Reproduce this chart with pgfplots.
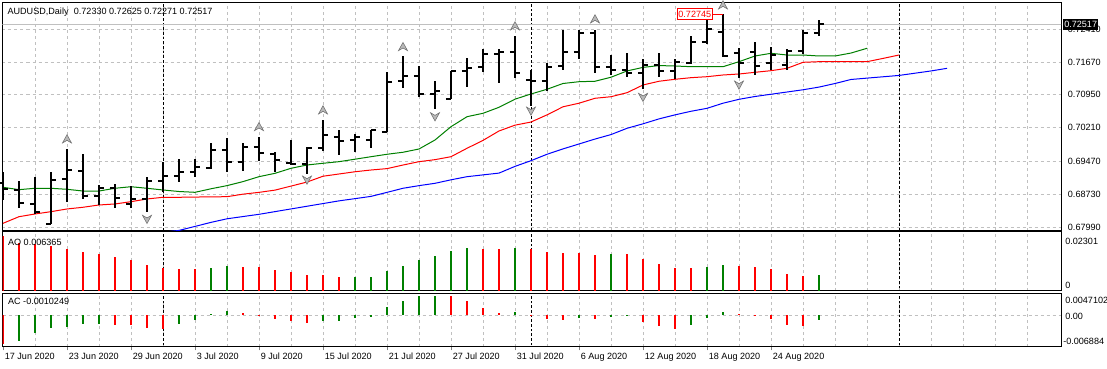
\documentclass[border=0pt]{standalone}
\usepackage{fontspec}
\setmainfont{Liberation Sans}
\usepackage{pgfplots}
\usepackage{pgfplotstable}
\pgfplotsset{compat=1.18}
\newcommand\mtf{\fontsize{6.8pt}{8pt}\selectfont}
\definecolor{mtgreen}{RGB}{0,128,0}
\definecolor{mtred}{RGB}{255,0,0}
\definecolor{mtblue}{RGB}{0,0,255}
\definecolor{mtgrid}{RGB}{192,192,192}

\pgfdeclareplotmark{otick}{\pgfpathmoveto{\pgfqpoint{-3.9pt}{0pt}}\pgfpathlineto{\pgfqpoint{0pt}{0pt}}\pgfusepathqstroke}
\pgfdeclareplotmark{ctick}{\pgfpathmoveto{\pgfqpoint{0pt}{0pt}}\pgfpathlineto{\pgfqpoint{3.9pt}{0pt}}\pgfusepathqstroke}
\pgfdeclareplotmark{fup}{%
  \pgfpathmoveto{\pgfqpoint{0pt}{3.2pt}}%
  \pgfpathlineto{\pgfqpoint{-3.4pt}{-3pt}}%
  \pgfpathlineto{\pgfqpoint{0pt}{-1pt}}%
  \pgfpathlineto{\pgfqpoint{3.4pt}{-3pt}}%
  \pgfpathclose
  \pgfusepathqfillstroke}
\pgfdeclareplotmark{fdown}{%
  \pgfpathmoveto{\pgfqpoint{0pt}{-3.2pt}}%
  \pgfpathlineto{\pgfqpoint{-3.4pt}{3pt}}%
  \pgfpathlineto{\pgfqpoint{0pt}{1pt}}%
  \pgfpathlineto{\pgfqpoint{3.4pt}{3pt}}%
  \pgfpathclose
  \pgfusepathqfillstroke}

\pgfplotstableread{
i O H L C
0 0.68979 0.69231 0.68599 0.68838
1 0.68823 0.69024 0.68414 0.68526
2 0.68504 0.69120 0.68287 0.68339
3 0.68064 0.69231 0.68064 0.69046
4 0.69061 0.69738 0.68562 0.69269
5 0.69253 0.69626 0.68615 0.68695
6 0.68695 0.68934 0.68488 0.68861
7 0.68861 0.68957 0.68414 0.68651
8 0.68511 0.68912 0.68414 0.68622
9 0.68615 0.69106 0.68325 0.69017
10 0.69030 0.69441 0.68785 0.69135
11 0.69142 0.69515 0.69008 0.69231
12 0.69231 0.69515 0.69120 0.69329
13 0.69307 0.69865 0.69291 0.69716
14 0.69716 0.69977 0.69218 0.69455
15 0.69455 0.69865 0.69253 0.69790
16 0.69790 0.70012 0.69477 0.69642
17 0.69626 0.69665 0.69231 0.69492
18 0.69432 0.69939 0.69381 0.69403
19 0.69403 0.69776 0.69180 0.69754
20 0.69754 0.70385 0.69700 0.70050
21 0.70012 0.70162 0.69604 0.69917
22 0.69939 0.70073 0.69671 0.70006
23 0.69939 0.70162 0.69754 0.70162
24 0.70124 0.71450 0.70124 0.71240
25 0.71263 0.71814 0.71106 0.71367
26 0.71367 0.71597 0.70892 0.70966
27 0.70966 0.71256 0.70624 0.71039
28 0.70854 0.71486 0.70854 0.71486
29 0.71486 0.71763 0.71115 0.71553
30 0.71575 0.71963 0.71463 0.71859
31 0.71859 0.71963 0.71205 0.71910
32 0.71910 0.72260 0.71316 0.71441
33 0.71278 0.71501 0.70698 0.71256
34 0.71256 0.71664 0.71039 0.71575
35 0.71597 0.72394 0.71501 0.71897
36 0.71897 0.72394 0.71740 0.72321
37 0.72321 0.72394 0.71428 0.71575
38 0.71575 0.71836 0.71390 0.71501
39 0.71501 0.71888 0.71338 0.71441
40 0.71441 0.71740 0.71071 0.71613
41 0.71613 0.71888 0.71338 0.71479
42 0.71479 0.71740 0.71294 0.71687
43 0.71651 0.72260 0.71635 0.72120
44 0.72120 0.72640 0.72075 0.72410
45 0.72356 0.72745 0.71785 0.71821
46 0.71874 0.71999 0.71329 0.71664
47 0.71897 0.72133 0.71390 0.71591
48 0.71664 0.72022 0.71501 0.71836
49 0.71613 0.71970 0.71501 0.71926
50 0.71932 0.72394 0.71852 0.72321
51 0.72330 0.72625 0.72271 0.72517
}\ohlc

\pgfplotsset{mtbase/.style={scale only axis, width=793.875pt, xmin=-0.03125, xmax=66.125,
  axis line style={line width=0.75pt}, tick label style={font=\mtf},
  xtick={2,4,...,64}, xticklabels={}, xmajorgrids,
  major grid style={mtgrid, dash pattern=on 2.25pt off 2.25pt, line width=0.6pt},
  major tick length=0pt, scaled x ticks=false, scaled y ticks=false, clip=true}}

\begin{document}
\begin{tikzpicture}[font=\mtf]
\useasboundingbox[fill=white] (0pt,0pt) rectangle (830.25pt,-276pt);

% ---------------- main price panel ----------------
\begin{axis}[mtbase, at={(1.875pt,-2.25pt)}, anchor=north west, height=170.625pt,
  ymin=0.679185, ymax=0.72997,
  ytick={0.6799,0.6873,0.6947,0.7021,0.7095,0.7167,0.7241},
  yticklabels={0.67990,0.68730,0.69470,0.70210,0.70950,0.71670,0.72410},
  ymajorgrids, yticklabel pos=right, ytick pos=right,
  yticklabel style={anchor=west, inner sep=0pt, xshift=5pt}]
% period separators
\addplot[black, dash pattern=on 2pt off 1.5pt, line width=0.7pt] coordinates {(10,0.6) (10,0.8)};
\addplot[black, dash pattern=on 2pt off 1.5pt, line width=0.7pt] coordinates {(33,0.6) (33,0.8)};
\addplot[black, dash pattern=on 2pt off 1.5pt, line width=0.7pt] coordinates {(56,0.6) (56,0.8)};
% bid line
\addplot[mtgrid, line width=0.8pt] coordinates {(-1,0.72517) (67,0.72517)};
% Alligator: jaw (blue)
\addplot[mtblue, line width=0.75pt] coordinates {
(10,0.67880)(11,0.67920)(12,0.68010)(13,0.68100)(14,0.68180)(15,0.68230)(16,0.68280)(17,0.68340)
(18,0.68400)(19,0.68460)(20,0.68520)(21,0.68580)(22,0.68630)(23,0.68680)(24,0.68770)(25,0.68861)
(26,0.68920)(27,0.68972)(28,0.69050)(29,0.69120)(30,0.69160)(31,0.69200)(32,0.69350)(33,0.69477)
(34,0.69620)(35,0.69740)(36,0.69850)(37,0.69960)(38,0.70060)(39,0.70200)(40,0.70300)(41,0.70410)
(42,0.70500)(43,0.70580)(44,0.70646)(45,0.70760)(46,0.70847)(47,0.70910)(48,0.70960)(49,0.71010)
(50,0.71060)(51,0.71120)(52,0.71200)(53,0.71290)(54,0.71320)(55,0.71350)(56,0.71380)(57,0.71430)
(58,0.71480)(59,0.71539)};
% teeth (red)
\addplot[mtred, line width=0.75pt] coordinates {
(0,0.68079)(1,0.68227)(2,0.68287)(3,0.68339)(4,0.68399)(5,0.68437)(6,0.68488)(7,0.68511)
(8,0.68562)(9,0.68622)(10,0.68660)(11,0.68660)(12,0.68665)(13,0.68670)(14,0.68673)(15,0.68730)
(16,0.68770)(17,0.68820)(18,0.68910)(19,0.69000)(20,0.69130)(21,0.69180)(22,0.69230)(23,0.69269)
(24,0.69300)(25,0.69380)(26,0.69455)(27,0.69500)(28,0.69566)(29,0.69754)(30,0.69930)(31,0.70140)
(32,0.70270)(33,0.70340)(34,0.70500)(35,0.70680)(36,0.70760)(37,0.70870)(38,0.70905)(39,0.70995)
(40,0.71167)(41,0.71250)(42,0.71294)(43,0.71330)(44,0.71352)(45,0.71390)(46,0.71412)(47,0.71450)
(48,0.71486)(49,0.71539)(50,0.71673)(51,0.71687)(52,0.71687)(53,0.71687)(54,0.71687)(55,0.71760)
(56,0.71836)};
% lips (green)
\addplot[mtgreen, line width=0.75pt] coordinates {
(0,0.68883)(1,0.68830)(2,0.68861)(3,0.68861)(4,0.68838)(5,0.68800)(6,0.68800)(7,0.68861)
(8,0.68896)(9,0.68861)(10,0.68823)(11,0.68789)(12,0.68771)(13,0.68850)(14,0.68920)(15,0.69010)
(16,0.69120)(17,0.69195)(18,0.69307)(19,0.69381)(20,0.69419)(21,0.69455)(22,0.69510)(23,0.69566)
(24,0.69620)(25,0.69665)(26,0.69738)(27,0.69939)(28,0.70236)(29,0.70459)(30,0.70535)(31,0.70669)
(32,0.70850)(33,0.70966)(34,0.71071)(35,0.71200)(36,0.71240)(37,0.71250)(38,0.71340)(39,0.71480)
(40,0.71560)(41,0.71600)(42,0.71591)(43,0.71575)(44,0.71575)(45,0.71575)(46,0.71687)(47,0.71814)
(48,0.71874)(49,0.71836)(50,0.71836)(51,0.71814)(52,0.71814)(53,0.71880)(54,0.71986)};
% OHLC bars
\addplot[draw=none, mark=none, forget plot,
  error bars/.cd, y dir=both, y explicit, error mark=none,
  error bar style={draw=black, line width=1.5pt}]
  table[x=i, y=C, y error plus expr=\thisrow{H}-\thisrow{C}, y error minus expr=\thisrow{C}-\thisrow{L}] {\ohlc};
\addplot[only marks, mark=otick, mark options={draw=black, line width=1.5pt}] table[x=i, y=O] {\ohlc};
\addplot[only marks, mark=ctick, mark options={draw=black, line width=1.5pt}] table[x=i, y=C] {\ohlc};
% fractals
\addplot[only marks, mark=fup, mark options={fill=gray!55, draw=gray!85!black, line width=0.4pt}] coordinates {
(4,0.69961)(16,0.70236)(20,0.70608)(25,0.72022)(32,0.72484)(37,0.72640)(45,0.72952)};
\addplot[only marks, mark=fdown, mark options={fill=gray!55, draw=gray!85!black, line width=0.4pt}] coordinates {
(3,0.67907)(9,0.68169)(19,0.69046)(27,0.70459)(33,0.70586)(40,0.70892)(46,0.71167)};
% max label
\draw[mtred, line width=0.75pt] (axis cs:44.375,0.72745) -- (axis cs:45,0.72745);
\node[draw=mtred, fill=white, text=mtred, anchor=east, inner xsep=1pt, inner ysep=1.6pt, line width=0.75pt]
  at (axis cs:44.375,0.72745) {0.72745};
\end{axis}

% ---------------- AO panel ----------------
\begin{axis}[mtbase, at={(1.875pt,-174pt)}, anchor=north west, height=44.25pt,
  ymin=0, ymax=0.02301, ytick=\empty]
\addplot[black, dash pattern=on 2pt off 1.5pt, line width=0.7pt] coordinates {(10,-1) (10,1)};
\addplot[black, dash pattern=on 2pt off 1.5pt, line width=0.7pt] coordinates {(33,-1) (33,1)};
\addplot[black, dash pattern=on 2pt off 1.5pt, line width=0.7pt] coordinates {(56,-1) (56,1)};
\addplot[ycomb, mtred, line width=1.4pt, mark=none] coordinates {
(0,0.02144)(1,0.01882)(2,0.01842)(3,0.01752)(4,0.01619)(5,0.01529)(6,0.01450)(7,0.01333)(8,0.01215)
(9,0.01019)(10,0.00902)(11,0.00862)(12,0.00855)(15,0.00941)(16,0.00935)(17,0.00823)(18,0.00745)
(19,0.00627)(20,0.00620)(21,0.00549)(30,0.01646)(31,0.01640)(33,0.01646)(34,0.01529)(35,0.01490)
(36,0.01485)(37,0.01411)(39,0.01445)(40,0.01254)(41,0.01058)(42,0.00902)(43,0.00895)(46,0.00980)
(47,0.00941)(48,0.00862)(49,0.00666)(50,0.00588)};
\addplot[ycomb, mtgreen, line width=1.4pt, mark=none] coordinates {
(13,0.00902)(14,0.00980)(22,0.00555)(23,0.00560)(24,0.00784)(25,0.00980)(26,0.01215)(27,0.01372)
(28,0.01568)(29,0.01686)(32,0.01686)(38,0.01450)(44,0.00941)(45,0.01019)(51,0.006365)};
\end{axis}

% ---------------- AC panel ----------------
\begin{axis}[mtbase, at={(1.875pt,-220pt)}, anchor=north west, height=40.275pt,
  ymin=-0.006884, ymax=0.0047102, ytick={0}, yticklabels={}, ymajorgrids,
  xtick pos=bottom,
  extra x ticks={0,4,...,48},
  extra x tick labels={17 Jun 2020,23 Jun 2020,29 Jun 2020,3 Jul 2020,9 Jul 2020,15 Jul 2020,21 Jul 2020,27 Jul 2020,31 Jul 2020,6 Aug 2020,12 Aug 2020,18 Aug 2020,24 Aug 2020},
  extra x tick style={grid=none, major tick length=2.5pt, tick align=outside,
    xticklabel style={anchor=north west, inner sep=0pt, xshift=1.2pt, yshift=-2pt}}]
\addplot[black, dash pattern=on 2pt off 1.5pt, line width=0.7pt] coordinates {(10,-1) (10,1)};
\addplot[black, dash pattern=on 2pt off 1.5pt, line width=0.7pt] coordinates {(33,-1) (33,1)};
\addplot[black, dash pattern=on 2pt off 1.5pt, line width=0.7pt] coordinates {(56,-1) (56,1)};
\addplot[ycomb, mtred, line width=1.4pt, mark=none] coordinates {
(0,-0.0062)(7,-0.00205)(8,-0.00210)(9,-0.00288)(10,-0.00290)(15,0.00050)(16,-0.00015)(17,-0.00094)
(18,-0.00137)(19,-0.00180)(28,0.00415)(29,0.00310)(30,0.00158)(31,0.00050)(33,-0.00022)(34,-0.00094)
(35,-0.00100)(37,-0.00094)(40,-0.00158)(41,-0.00245)(42,-0.00310)(46,0.00022)(47,-0.00007)(48,-0.00094)
(49,-0.00223)(50,-0.00230)};
\addplot[ycomb, mtgreen, line width=1.4pt, mark=none] coordinates {
(1,-0.00555)(2,-0.00396)(3,-0.00288)(4,-0.00252)(5,-0.00202)(6,-0.00200)(11,-0.00202)(12,-0.00115)
(13,0.00022)(14,0.00094)(20,-0.00137)(21,-0.00135)(22,-0.00072)(23,-0.00036)(24,0.00180)(25,0.00310)
(26,0.00418)(27,0.00420)(32,0.00072)(36,-0.00072)(38,-0.00036)(39,-0.00030)(43,-0.00223)(44,-0.00072)
(45,0.00072)(51,-0.0010249)};
\end{axis}

% ---------------- texts ----------------
\node[anchor=base west, inner sep=0pt] at (5.5pt,-10.5pt) {AUDUSD,Daily\hspace{4pt}0.72330 0.72625 0.72271 0.72517};
\node[anchor=base west, inner sep=0pt] at (5.9pt,-184pt) {AO 0.006365};
\node[anchor=base west, inner sep=0pt] at (5.9pt,-228.5pt) {AC -0.0010249};
\node[anchor=base west, inner sep=0pt] at (798.75pt,-183pt) {0.02301};
\node[anchor=base west, inner sep=0pt] at (798.75pt,-216pt) {0};
\node[anchor=base west, inner sep=0pt] at (798.75pt,-227.5pt) {0.0047102};
\node[anchor=base west, inner sep=0pt] at (798.75pt,-239.75pt) {0.00};
\node[anchor=base west, inner sep=0pt] at (797.25pt,-258.5pt) {-0.006884};
\node[fill=black, text=white, anchor=west, inner xsep=1pt, inner ysep=1.8pt] at (797pt,-18.4pt) {0.72517};
\end{tikzpicture}
\end{document}
